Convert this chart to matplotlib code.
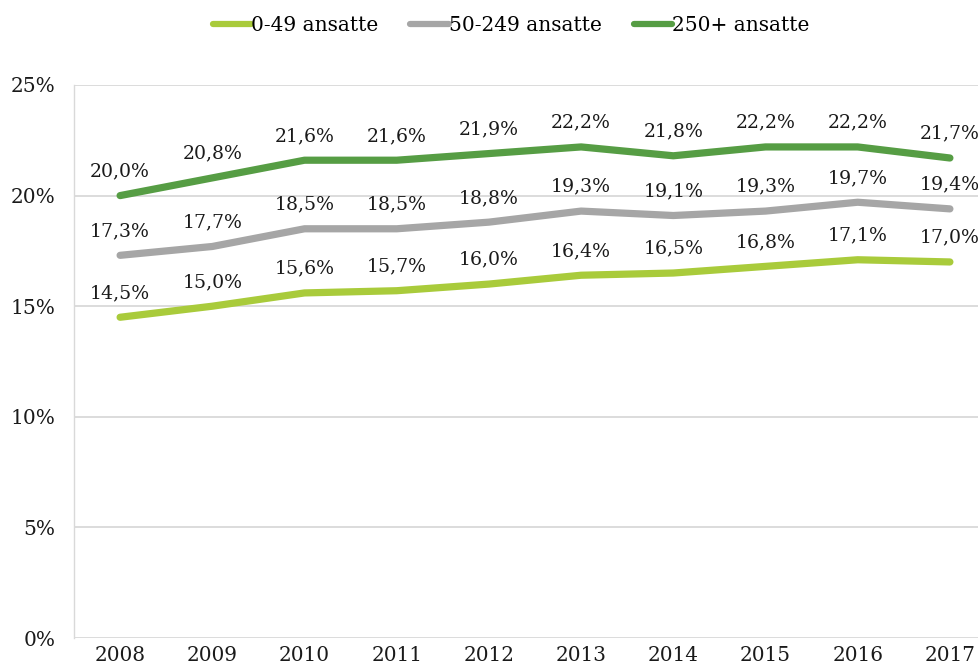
import matplotlib
matplotlib.use("Agg")
import matplotlib.pyplot as plt

years = ["2008", "2009", "2010", "2011", "2012", "2013", "2014", "2015", "2016", "2017"]
small = [14.5, 15.0, 15.6, 15.7, 16.0, 16.4, 16.5, 16.8, 17.1, 17.0]
medium = [17.3, 17.7, 18.5, 18.5, 18.8, 19.3, 19.1, 19.3, 19.7, 19.4]
large = [20.0, 20.8, 21.6, 21.6, 21.9, 22.2, 21.8, 22.2, 22.2, 21.7]
series_names = ["0-49 ansatte", "50-249 ansatte", "250+ ansatte"]
colors = ["#A9CB3B", "#A6A6A6", "#569D44"]
yticks = [0, 5, 10, 15, 20, 25]

plt.rcParams['font.family'] = ['DejaVu Serif']

fig = plt.figure(figsize=(9.79, 6.72), dpi=100)
ax = fig.add_axes([74/979, 34/672, 922/979, 553/672])

x = list(range(len(years)))
for vals, name, c in zip([small, medium, large], series_names, colors):
    ax.plot(x, vals, color=c, lw=5.2, solid_capstyle='round', solid_joinstyle='round', label=name, zorder=3)
    for xi, v in zip(x, vals):
        ax.annotate(f"{v:.1f}".replace('.', ',') + "%", (xi, v), xytext=(0, 11),
                    textcoords='offset points', ha='center', va='bottom', fontsize=13.6, color='#1a1a1a')

ax.set_xlim(-0.5, 9.5)
ax.set_ylim(0, 25)
ax.set_yticks(yticks)
ax.set_yticklabels([f"{t}%" for t in yticks], fontsize=14.5, color='#1a1a1a')
ax.set_xticks(x)
ax.set_xticklabels(years, fontsize=14.4, color='#1a1a1a')
ax.grid(axis='y', color='#d9d9d9', lw=1.3, zorder=0)
for s in ['top', 'right', 'bottom']:
    ax.spines[s].set_visible(False)
ax.spines['left'].set_color('#d9d9d9')
ax.spines['left'].set_linewidth(1.0)
ax.tick_params(axis='x', length=0, pad=6)
ax.tick_params(axis='y', length=0, pad=13.5)

leg = fig.legend(loc='upper center', bbox_to_anchor=(0.522, 1.003), ncol=3, frameon=False,
                 fontsize=14.5, handlelength=1.9, handletextpad=0.0, columnspacing=1.6)
for h in leg.get_lines():
    h.set_linewidth(4.5)

fig.savefig("out.png", dpi=100)
